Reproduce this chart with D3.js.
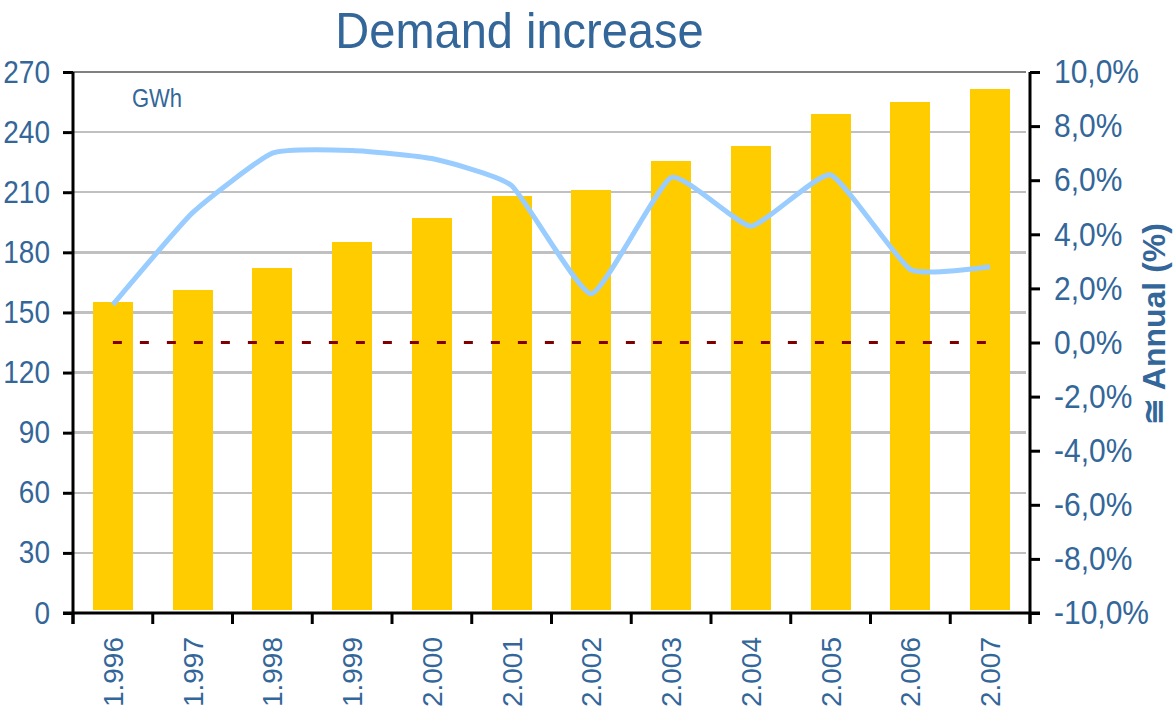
<!DOCTYPE html>
<html>
<head>
<meta charset="utf-8">
<script src="https://cdn.jsdelivr.net/npm/d3@7"></script>
<style>
  html, body { margin: 0; padding: 0; background: #ffffff; }
  svg { display: block; }
  text { font-family: "Liberation Sans", Arial, sans-serif; }
</style>
</head>
<body>
<svg id="chart" width="1176" height="715"></svg>
<script>
// Yearly electricity demand (GWh) and its annual growth (%)
const years = ["1.996", "1.997", "1.998", "1.999", "2.000", "2.001",
               "2.002", "2.003", "2.004", "2.005", "2.006", "2.007"];
const demand = [155, 161, 172, 185, 197, 208, 211, 225.5, 233, 249, 255, 261.5];
const growth = [1.4, 4.8, 7.0, 7.1, 6.8, 5.8, 1.8, 6.1, 4.3, 6.2, 2.7, 2.8];
const baseline = [0, 0, 0, 0, 0, 0, 0, 0, 0, 0, 0, 0];

const leftTicks = [0, 30, 60, 90, 120, 150, 180, 210, 240, 270];
const rightTicks = [-10, -8, -6, -4, -2, 0, 2, 4, 6, 8, 10];

const titleText = "Demand increase";
const unitText = "GWh";
const rightTitle = "\u2245 Annual (%)";

const blue = "#336699";
const stretch = 1.12; // glyphs are drawn slightly taller than wide

const svg = d3.select("#chart");
const plot = { left: 73, right: 1030, top: 72, bottom: 613 };

const x = d3.scaleBand()
  .domain(years)
  .range([plot.left, plot.right])
  .paddingInner(0.5)
  .paddingOuter(0.25);

const y = d3.scaleLinear().domain([0, 270]).range([plot.bottom, plot.top]);
const y2 = d3.scaleLinear().domain([-10, 10]).range([plot.bottom, plot.top]);

const pctLocale = d3.formatLocale({ decimal: ",", thousands: ".", grouping: [3], currency: ["", ""], minus: "-" });
const pctFmt = v => pctLocale.format(".1f")(v) + "%";

// Horizontal gridlines
svg.append("g")
  .selectAll("line")
  .data(leftTicks.filter(t => t > 0))
  .join("line")
  .attr("x1", plot.left)
  .attr("x2", plot.right - 4)
  .attr("y1", d => y(d))
  .attr("y2", d => y(d))
  .attr("stroke", d => d === 270 ? "#808080" : "#c0c0c0")
  .attr("stroke-width", 2.5)
  .attr("shape-rendering", "crispEdges");

// Demand bars
svg.append("g")
  .selectAll("rect")
  .data(years)
  .join("rect")
  .attr("x", d => x(d))
  .attr("width", x.bandwidth())
  .attr("y", (d, i) => y(demand[i]))
  .attr("height", (d, i) => y(0) - y(demand[i]) - 3)
  .attr("fill", "#ffcc00")
  .attr("shape-rendering", "crispEdges");

const cx = d => x(d) + x.bandwidth() / 2;

// Zero-growth reference line
svg.append("path")
  .datum(baseline)
  .attr("fill", "none")
  .attr("stroke", "#800000")
  .attr("stroke-width", 3)
  .attr("stroke-dasharray", "9 18")
  .attr("d", d3.line().x((d, i) => cx(years[i])).y(d => y2(d)));

// Annual growth line (lightly smoothed)
svg.append("path")
  .datum(growth)
  .attr("fill", "none")
  .attr("stroke", "#99ccff")
  .attr("stroke-width", 5)
  .attr("stroke-linejoin", "round")
  .attr("d", d3.line()
    .x((d, i) => cx(years[i]))
    .y(d => y2(d))
    .curve(d3.curveCardinal.tension(0.55)));

// Left axis (GWh)
const gLeft = svg.append("g")
  .attr("transform", `translate(${plot.left},0)`)
  .call(d3.axisLeft(y).tickValues(leftTicks).tickSize(10).tickPadding(13));
gLeft.select(".domain").remove();
gLeft.selectAll(".tick line").attr("stroke", "#000").attr("stroke-width", 3);
gLeft.selectAll(".tick text")
  .attr("fill", blue)
  .attr("font-size", 28)
  .attr("transform", `scale(1,${stretch})`);
gLeft.append("line")
  .attr("x1", 0).attr("x2", 0)
  .attr("y1", plot.top).attr("y2", plot.bottom + 11)
  .attr("stroke", "#000").attr("stroke-width", 3);

// Right axis (annual %)
const gRight = svg.append("g")
  .attr("transform", `translate(${plot.right},0)`)
  .call(d3.axisRight(y2).tickValues(rightTicks).tickFormat(pctFmt).tickSize(10).tickPadding(14));
gRight.select(".domain").remove();
gRight.selectAll(".tick line").attr("stroke", "#000").attr("stroke-width", 3);
gRight.selectAll(".tick text")
  .attr("fill", blue)
  .attr("font-size", 30)
  .attr("transform", `scale(1,${stretch})`);
gRight.append("line")
  .attr("x1", 0).attr("x2", 0)
  .attr("y1", plot.top).attr("y2", plot.bottom + 11)
  .attr("stroke", "#000").attr("stroke-width", 3);

// Category axis
const gBottom = svg.append("g")
  .attr("transform", `translate(0,${plot.bottom})`);
gBottom.append("line")
  .attr("x1", plot.left - 10).attr("x2", plot.right + 10)
  .attr("y1", 0).attr("y2", 0)
  .attr("stroke", "#000").attr("stroke-width", 3);
gBottom.selectAll("line.tick")
  .data(d3.range(years.length + 1))
  .join("line")
  .attr("class", "tick")
  .attr("x1", i => plot.left + i * x.step())
  .attr("x2", i => plot.left + i * x.step())
  .attr("y1", 0).attr("y2", 11)
  .attr("stroke", "#000").attr("stroke-width", 3);
gBottom.selectAll("text")
  .data(years)
  .join("text")
  .attr("transform", d => `translate(${cx(d) + 10},24) rotate(-90)`)
  .attr("text-anchor", "end")
  .attr("fill", blue)
  .attr("font-size", 28)
  .text(d => d);

// Chart title
svg.append("text")
  .attr("transform", `translate(${(plot.left + plot.right) / 2 - 32},48) scale(1,1.08)`)
  .attr("text-anchor", "middle")
  .attr("fill", blue)
  .attr("font-size", 47)
  .text(titleText);

// Unit label
svg.append("text")
  .attr("transform", `translate(132,107) scale(1,${stretch + 0.06})`)
  .attr("fill", blue)
  .attr("font-size", 22)
  .text(unitText);

// Right axis title
svg.append("text")
  .attr("transform", `translate(1165,324) rotate(-90)`)
  .attr("text-anchor", "middle")
  .attr("fill", blue)
  .attr("font-size", 32)
  .attr("font-weight", "bold")
  .text(rightTitle);
</script>
</body>
</html>
